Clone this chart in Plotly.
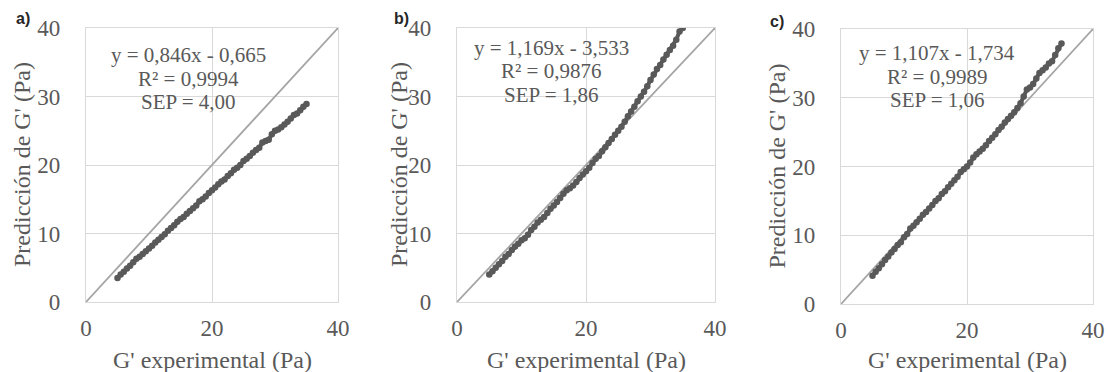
import plotly.graph_objects as go

# ---------------- data ----------------
x_exp = [5.0, 5.5, 6.0, 6.5, 7.0, 7.5, 8.0, 8.5, 9.0, 9.5, 10.0, 10.5, 11.0, 11.5, 12.0, 12.5,
         13.0, 13.5, 14.0, 14.5, 15.0, 15.5, 16.0, 16.5, 17.0, 17.5, 18.0, 18.5, 19.0, 19.5,
         20.0, 20.5, 21.0, 21.5, 22.0, 22.5, 23.0, 23.5, 24.0, 24.5, 25.0, 25.5, 26.0, 26.5,
         27.0, 27.5, 28.0, 28.5, 29.0, 29.5, 30.0, 30.5, 31.0, 31.5, 32.0, 32.5, 33.0, 33.5,
         34.0, 34.5, 35.0]

pred_a = [3.5, 4.0, 4.4, 4.9, 5.3, 5.8, 6.3, 6.6, 7.0, 7.4, 7.8, 8.2, 8.7, 9.1, 9.5, 9.9,
          10.4, 10.8, 11.2, 11.7, 12.1, 12.4, 12.9, 13.3, 13.7, 14.1, 14.7, 15.0, 15.4, 15.9,
          16.3, 16.7, 17.2, 17.6, 17.9, 18.4, 18.8, 19.3, 19.6, 20.0, 20.6, 20.9, 21.3, 21.8,
          22.2, 22.5, 23.3, 23.5, 23.7, 24.5, 25.0, 25.2, 25.5, 25.9, 26.3, 26.8, 27.3, 27.5,
          28.0, 28.5, 28.9]

pred_b = [4.0, 4.5, 5.0, 5.5, 6.0, 6.6, 7.0, 7.6, 8.1, 8.5, 9.0, 9.3, 9.8, 10.5, 11.0, 11.6,
          12.0, 12.4, 13.0, 13.6, 14.1, 14.6, 15.2, 15.8, 16.3, 16.6, 17.0, 17.5, 18.1, 18.6,
          19.1, 19.6, 20.3, 20.9, 21.3, 22.0, 22.6, 23.2, 23.8, 24.4, 25.0, 25.6, 26.3, 27.1,
          27.8, 28.5, 29.3, 30.0, 30.7, 31.5, 32.4, 33.2, 34.0, 34.6, 35.4, 36.1, 36.8, 37.4,
          38.3, 39.5, 40.0]

pred_c = [4.1, 4.7, 5.2, 5.8, 6.4, 6.9, 7.5, 8.0, 8.6, 9.0, 9.7, 10.2, 11.0, 11.4, 11.9, 12.4,
          13.0, 13.4, 13.9, 14.4, 15.0, 15.4, 16.0, 16.4, 17.0, 17.5, 18.0, 18.5, 19.2, 19.6,
          20.0, 20.6, 21.3, 21.8, 22.2, 22.6, 23.1, 23.7, 24.2, 24.7, 25.3, 25.8, 26.4, 26.9,
          27.4, 27.9, 28.5, 29.2, 30.2, 31.2, 31.5, 32.0, 32.8, 33.6, 34.0, 34.4, 35.0, 35.3,
          36.2, 37.2, 37.9]

ref_line = [0, 40]

panel_labels = ["a)", "b)", "c)"]
equations = ["y = 0,846x - 0,665", "y = 1,169x - 3,533", "y = 1,107x - 1,734"]
r2_texts = ["R² = 0,9994", "R² = 0,9876", "R² = 0,9989"]
sep_texts = ["SEP = 4,00", "SEP = 1,86", "SEP = 1,06"]
x_title = "G' experimental (Pa)"
y_title = "Predicción de G' (Pa)"
x_ticks = [0, 20, 40]
y_ticks = [0, 10, 20, 30, 40]

# ---------------- layout geometry ----------------
W, H = 1108, 372
x_domains = [(86, 338), (457, 715), (841, 1093)]
y_domains = [(28, 302), (28, 302), (29, 304)]
text_cx = [188, 551, 937]
text_y0 = [55, 48, 53]
line_gap = 23.5
label_pos = [(23, 19), (401, 19), (777, 22)]

SERIF = "Liberation Serif"
TXT = "#595959"

fig = go.Figure()
series = [pred_a, pred_b, pred_c]
for i in range(3):
    xa = "x" if i == 0 else f"x{i+1}"
    ya = "y" if i == 0 else f"y{i+1}"
    fig.add_trace(go.Scatter(x=ref_line, y=ref_line, mode="lines",
                             line=dict(color="#a5a5a5", width=1.8),
                             xaxis=xa, yaxis=ya, showlegend=False, hoverinfo="skip"))
    fig.add_trace(go.Scatter(x=x_exp, y=series[i], mode="lines+markers",
                             line=dict(color="#595959", width=4),
                             marker=dict(color="#595959", size=6.5, line=dict(width=0)),
                             xaxis=xa, yaxis=ya, showlegend=False))

layout = dict(width=W, height=H, margin=dict(l=0, r=0, t=0, b=0, pad=0, autoexpand=False),
              paper_bgcolor="white", plot_bgcolor="white",
              font=dict(family=SERIF, color=TXT, size=23))
annotations = []
for i in range(3):
    sx = "" if i == 0 else str(i + 1)
    x0, x1 = x_domains[i]
    y0, y1 = y_domains[i]
    layout["xaxis" + sx] = dict(
        domain=[x0 / W, x1 / W], range=[0, 40], tickvals=x_ticks,
        showgrid=True, gridcolor="#d9d9d9", gridwidth=1,
        showline=True, linecolor="#d9d9d9", linewidth=1.3, mirror=True,
        zeroline=False, ticks="", ticklabelstandoff=5, automargin=False,
        tickfont=dict(family=SERIF, size=23, color=TXT),
        anchor="y" + sx, fixedrange=True)
    layout["yaxis" + sx] = dict(
        domain=[1 - y1 / H, 1 - y0 / H], range=[0, 40], tickvals=y_ticks,
        showgrid=True, gridcolor="#d9d9d9", gridwidth=1,
        showline=True, linecolor="#d9d9d9", linewidth=1.3, mirror=True,
        zeroline=False, ticks="", ticklabelstandoff=20, automargin=False,
        tickfont=dict(family=SERIF, size=23, color=TXT),
        anchor="x" + sx, fixedrange=True)
    # axis titles
    annotations.append(dict(text=x_title, xref="paper", yref="paper",
                            x=(x0 + x1) / 2 / W, y=1 - 360 / H, showarrow=False,
                            xanchor="center", yanchor="middle",
                            font=dict(family=SERIF, size=24, color=TXT)))
    annotations.append(dict(text=y_title, xref="paper", yref="paper",
                            x=(x0 - 64 + (6 if i == 1 else 0)) / W, y=1 - (y0 + y1) / 2 / H,
                            showarrow=False, textangle=-90,
                            xanchor="center", yanchor="middle",
                            font=dict(family=SERIF, size=24, color=TXT)))
    # regression text
    for k, t in enumerate([equations[i], r2_texts[i], sep_texts[i]]):
        annotations.append(dict(text=t, xref="paper", yref="paper",
                                x=text_cx[i] / W, y=1 - (text_y0[i] + k * line_gap) / H,
                                showarrow=False, xanchor="center", yanchor="middle",
                                font=dict(family=SERIF, size=21, color=TXT)))
    # panel label
    lx, ly = label_pos[i]
    annotations.append(dict(text="<b>" + panel_labels[i] + "</b>", xref="paper", yref="paper",
                            x=lx / W, y=1 - ly / H, showarrow=False,
                            xanchor="center", yanchor="middle",
                            font=dict(family="Liberation Sans", size=16,
                                      color="#262626")))
layout["annotations"] = annotations
fig.update_layout(**layout)
fig.write_html("out.html")
